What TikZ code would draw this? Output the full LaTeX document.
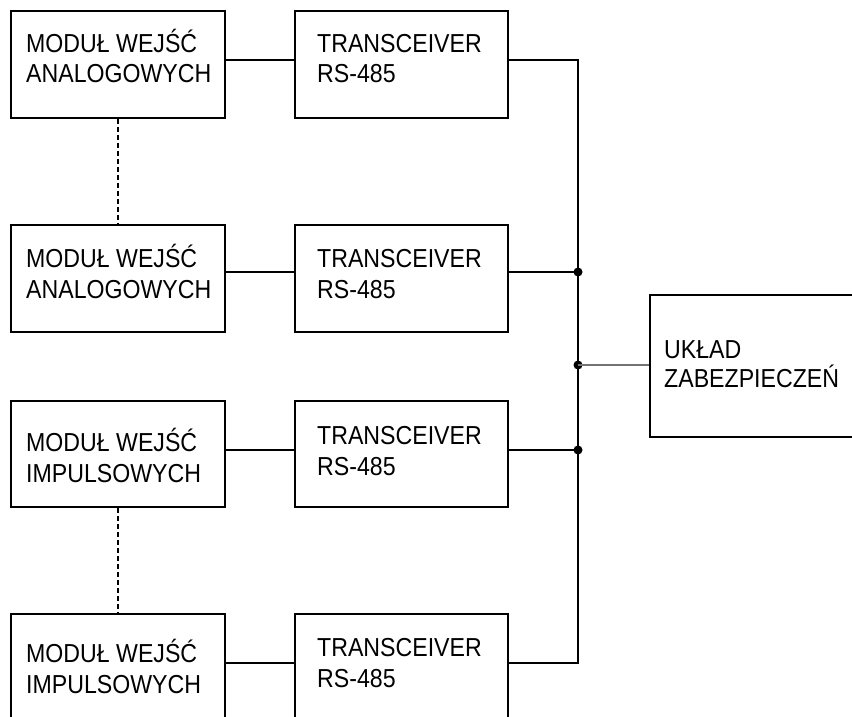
\documentclass[tikz,border=0pt]{standalone}
\usepackage{fontspec}
\setmainfont{Liberation Sans}[FakeStretch=0.89]
\begin{document}
\begin{tikzpicture}[x=1pt,y=-1pt,
  lw/.style={line width=2.2pt},
  modbox/.style={draw,lw,anchor=north west,minimum width=214pt,minimum height=107pt,inner sep=0pt},
  lbl/.style={anchor=base west,inner sep=0pt,align=left,font=\fontsize{26}{30.5}\selectfont},
  wire/.style={lw},
  dashlink/.style={line width=2.2pt,dash pattern=on 5pt off 3pt},
  junction/.style={circle,fill=black,inner sep=0pt,minimum size=9pt}
]
\useasboundingbox (0,0) rectangle (852,717);
\clip (0,0) rectangle (852,717);
% left modules
\node[modbox] (a1) at (10,10) {};
\node[modbox] (a2) at (10,224) {};
\node[modbox,minimum height=106pt] (a3) at (10,400) {};
\node[modbox,minimum height=112pt] (a4) at (10,613) {};
\node[lbl] (a1t) at (26,83) {MODUŁ WEJŚĆ\\ANALOGOWYCH};
\node[lbl] (a2t) at (26,298) {MODUŁ WEJŚĆ\\ANALOGOWYCH};
\node[lbl] (a3t) at (26,482) {MODUŁ WEJŚĆ\\IMPULSOWYCH};
\node[lbl] (a4t) at (26,693) {MODUŁ WEJŚĆ\\IMPULSOWYCH};
% transceivers
\node[modbox,minimum width=213pt] (t1) at (294,10) {};
\node[modbox,minimum width=213pt] (t2) at (294,224) {};
\node[modbox,minimum width=213pt,minimum height=106pt] (t3) at (294,400) {};
\node[modbox,minimum width=213pt,minimum height=112pt] (t4) at (294,613) {};
\node[lbl] (t1t) at (317,83) {TRANSCEIVER\\RS-485};
\node[lbl] (t2t) at (317,298) {TRANSCEIVER\\RS-485};
\node[lbl] (t3t) at (317,475) {TRANSCEIVER\\RS-485};
\node[lbl] (t4t) at (317,687) {TRANSCEIVER\\RS-485};
% protection unit
\node[modbox,minimum width=230pt,minimum height=142pt] (u) at (649,294) {};
\node[lbl,font=\fontsize{26}{29}\selectfont] (ut) at (664,387) {UKŁAD\\ZABEZPIECZEŃ};
% dashed links
\draw[dashlink] (a1.south) -- (a2.north);
\draw[dashlink] (a3.south) -- (a4.north);
% signal levels
\coordinate (y1) at (0,60);
\coordinate (y2) at (0,272);
\coordinate (y3) at (0,450);
\coordinate (y4) at (0,663);
% module to transceiver
\draw[wire] (a1.east |- y1) -- (t1.west |- y1);
\draw[wire] (a2.east |- y2) -- (t2.west |- y2);
\draw[wire] (a3.east |- y3) -- (t3.west |- y3);
\draw[wire] (a4.east |- y4) -- (t4.west |- y4);
% bus
\coordinate (b1) at (578,60);
\coordinate (b4) at (578,663);
\node[junction] (j2) at (578,272) {};
\node[junction] (j0) at (578,365) {};
\node[junction] (j3) at (578,450) {};
\draw[wire] (t1.east |- y1) -- (b1) -- (b4) -- (t4.east |- y4);
\draw[wire] (t2.east |- y2) -- (j2.center);
\draw[wire] (t3.east |- y3) -- (j3.center);
\draw[line width=1.4pt,black!55] (j0.center) -- (u.west |- j0.center);
\end{tikzpicture}
\end{document}
